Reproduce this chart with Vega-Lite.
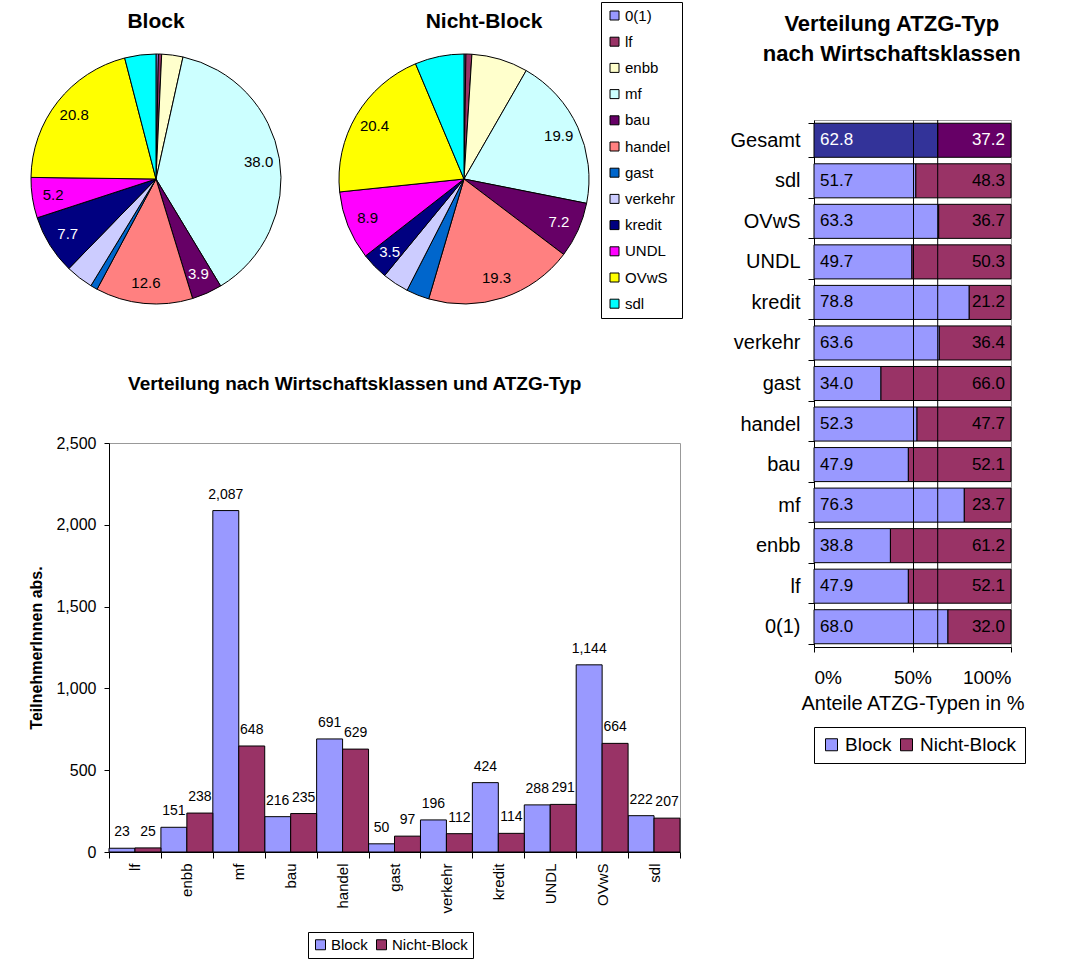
{
  "$schema": "https://vega.github.io/schema/vega-lite/v6.json",
  "background": "white",
  "padding": {"left": 28, "top": 1, "right": 0, "bottom": 0},
  "config": {
    "font": "Liberation Sans",
    "view": {"stroke": null},
    "axis": {"labelColor": "black", "titleColor": "black", "domainColor": "black", "tickColor": "black"},
    "legend": {"labelColor": "black"},
    "title": {"color": "black"}
  },
  "datasets": {
    "counts": [
      {"cls": "0(1)", "type": "Block", "n": 17, "pct": 0.3, "ord": 1},
      {"cls": "lf", "type": "Block", "n": 23, "pct": 0.4, "ord": 2},
      {"cls": "enbb", "type": "Block", "n": 151, "pct": 2.7, "ord": 3},
      {"cls": "mf", "type": "Block", "n": 2087, "pct": 38.0, "ord": 4},
      {"cls": "bau", "type": "Block", "n": 216, "pct": 3.9, "ord": 5},
      {"cls": "handel", "type": "Block", "n": 691, "pct": 12.6, "ord": 6},
      {"cls": "gast", "type": "Block", "n": 50, "pct": 0.9, "ord": 7},
      {"cls": "verkehr", "type": "Block", "n": 196, "pct": 3.6, "ord": 8},
      {"cls": "kredit", "type": "Block", "n": 424, "pct": 7.7, "ord": 9},
      {"cls": "UNDL", "type": "Block", "n": 288, "pct": 5.2, "ord": 10},
      {"cls": "OVwS", "type": "Block", "n": 1144, "pct": 20.8, "ord": 11},
      {"cls": "sdl", "type": "Block", "n": 222, "pct": 4.0, "ord": 12},
      {"cls": "0(1)", "type": "Nicht-Block", "n": 8, "pct": 0.2, "ord": 1},
      {"cls": "lf", "type": "Nicht-Block", "n": 25, "pct": 0.8, "ord": 2},
      {"cls": "enbb", "type": "Nicht-Block", "n": 238, "pct": 7.3, "ord": 3},
      {"cls": "mf", "type": "Nicht-Block", "n": 648, "pct": 19.9, "ord": 4},
      {"cls": "bau", "type": "Nicht-Block", "n": 235, "pct": 7.2, "ord": 5},
      {"cls": "handel", "type": "Nicht-Block", "n": 629, "pct": 19.3, "ord": 6},
      {"cls": "gast", "type": "Nicht-Block", "n": 97, "pct": 3.0, "ord": 7},
      {"cls": "verkehr", "type": "Nicht-Block", "n": 112, "pct": 3.4, "ord": 8},
      {"cls": "kredit", "type": "Nicht-Block", "n": 114, "pct": 3.5, "ord": 9},
      {"cls": "UNDL", "type": "Nicht-Block", "n": 291, "pct": 8.9, "ord": 10},
      {"cls": "OVwS", "type": "Nicht-Block", "n": 664, "pct": 20.4, "ord": 11},
      {"cls": "sdl", "type": "Nicht-Block", "n": 207, "pct": 6.3, "ord": 12}
    ],
    "shares": [
      {"cls": "Gesamt", "type": "Block", "pct": 62.8},
      {"cls": "Gesamt", "type": "Nicht-Block", "pct": 37.2},
      {"cls": "sdl", "type": "Block", "pct": 51.7},
      {"cls": "sdl", "type": "Nicht-Block", "pct": 48.3},
      {"cls": "OVwS", "type": "Block", "pct": 63.3},
      {"cls": "OVwS", "type": "Nicht-Block", "pct": 36.7},
      {"cls": "UNDL", "type": "Block", "pct": 49.7},
      {"cls": "UNDL", "type": "Nicht-Block", "pct": 50.3},
      {"cls": "kredit", "type": "Block", "pct": 78.8},
      {"cls": "kredit", "type": "Nicht-Block", "pct": 21.2},
      {"cls": "verkehr", "type": "Block", "pct": 63.6},
      {"cls": "verkehr", "type": "Nicht-Block", "pct": 36.4},
      {"cls": "gast", "type": "Block", "pct": 34.0},
      {"cls": "gast", "type": "Nicht-Block", "pct": 66.0},
      {"cls": "handel", "type": "Block", "pct": 52.3},
      {"cls": "handel", "type": "Nicht-Block", "pct": 47.7},
      {"cls": "bau", "type": "Block", "pct": 47.9},
      {"cls": "bau", "type": "Nicht-Block", "pct": 52.1},
      {"cls": "mf", "type": "Block", "pct": 76.3},
      {"cls": "mf", "type": "Nicht-Block", "pct": 23.7},
      {"cls": "enbb", "type": "Block", "pct": 38.8},
      {"cls": "enbb", "type": "Nicht-Block", "pct": 61.2},
      {"cls": "lf", "type": "Block", "pct": 47.9},
      {"cls": "lf", "type": "Nicht-Block", "pct": 52.1},
      {"cls": "0(1)", "type": "Block", "pct": 68.0},
      {"cls": "0(1)", "type": "Nicht-Block", "pct": 32.0}
    ]
  },
  "hconcat": [
    {
      "vconcat": [
        {
          "hconcat": [
            {
              "width": 94, "height": 118,
              "title": {"text": "Block", "fontSize": 21, "fontWeight": "bold", "anchor": "middle", "offset": 20},
              "data": {"name": "counts"},
              "transform": [{"filter": "datum.type === 'Block'"}],
              "encoding": {
                "theta": {"field": "n", "type": "quantitative", "stack": true},
                "order": {"field": "ord", "type": "quantitative"}
              },
              "layer": [
                {
                  "mark": {"type": "arc", "outerRadius": 125, "stroke": "black", "strokeWidth": 1},
                  "encoding": {
                    "color": {"field": "cls", "type": "nominal",
                      "scale": {"domain": ["0(1)","lf","enbb","mf","bau","handel","gast","verkehr","kredit","UNDL","OVwS","sdl"],
                                "range": ["#9999FF","#993366","#FFFFCC","#CCFFFF","#660066","#FF8080","#0066CC","#CCCCFF","#000080","#FF00FF","#FFFF00","#00FFFF"]},
                      "legend": {"orient": "none", "legendX": 492, "legendY": -118, "title": null,
                        "strokeColor": "black", "fillColor": "white", "padding": 6,
                        "symbolType": "square", "symbolSize": 81, "symbolStrokeColor": "black", "symbolStrokeWidth": 1,
                        "labelFontSize": 15, "labelOffset": 3, "rowPadding": 10.2}}
                  }
                },
                {
                  "mark": {"type": "text", "radius": 104, "fontSize": 15},
                  "encoding": {
                    "text": {"condition": {"test": "indexof(['mf','bau','handel','kredit','UNDL','OVwS'], datum.cls) >= 0", "field": "pct", "type": "quantitative", "format": ".1f"}, "value": ""},
                    "color": {"condition": {"test": "datum.cls === 'bau' || datum.cls === 'kredit'", "value": "white"}, "value": "black"}
                  }
                }
              ]
            },
            {
              "width": 94, "height": 118,
              "title": {"text": "Nicht-Block", "fontSize": 21, "fontWeight": "bold", "anchor": "middle", "offset": 20, "dx": 20},
              "data": {"name": "counts"},
              "transform": [{"filter": "datum.type === 'Nicht-Block'"}],
              "encoding": {
                "theta": {"field": "n", "type": "quantitative", "stack": true},
                "order": {"field": "ord", "type": "quantitative"}
              },
              "layer": [
                {
                  "mark": {"type": "arc", "outerRadius": 125, "stroke": "black", "strokeWidth": 1},
                  "encoding": {
                    "color": {"field": "cls", "type": "nominal",
                      "scale": {"domain": ["0(1)","lf","enbb","mf","bau","handel","gast","verkehr","kredit","UNDL","OVwS","sdl"],
                                "range": ["#9999FF","#993366","#FFFFCC","#CCFFFF","#660066","#FF8080","#0066CC","#CCCCFF","#000080","#FF00FF","#FFFF00","#00FFFF"]},
                      "legend": {"orient": "none", "legendX": 492, "legendY": -118, "title": null,
                        "strokeColor": "black", "fillColor": "white", "padding": 6,
                        "symbolType": "square", "symbolSize": 81, "symbolStrokeColor": "black", "symbolStrokeWidth": 1,
                        "labelFontSize": 15, "labelOffset": 3, "rowPadding": 10.2}}
                  }
                },
                {
                  "mark": {"type": "text", "radius": 104, "fontSize": 15},
                  "encoding": {
                    "text": {"condition": {"test": "indexof(['mf','bau','handel','kredit','UNDL','OVwS'], datum.cls) >= 0", "field": "pct", "type": "quantitative", "format": ".1f"}, "value": ""},
                    "color": {"condition": {"test": "datum.cls === 'bau' || datum.cls === 'kredit'", "value": "white"}, "value": "black"}
                  }
                }
              ]
            }
          ],
          "spacing": 214,
          "bounds": "flush"
        },
        {
          "width": 571, "height": 409,
          "title": {"text": "Verteilung nach Wirtschaftsklassen und ATZG-Typ", "fontSize": 19, "fontWeight": "bold", "anchor": "middle", "frame": "bounds", "offset": 41},
          "view": {"stroke": "#999999"},
          "data": {"name": "counts"},
          "transform": [{"filter": "datum.cls !== '0(1)'"}],
          "encoding": {
            "x": {"field": "cls", "type": "nominal",
              "sort": ["lf","enbb","mf","bau","handel","gast","verkehr","kredit","UNDL","OVwS","sdl"],
              "scale": {"paddingInner": 0, "paddingOuter": 0},
              "axis": {"title": null, "labelAngle": -90, "labelFontSize": 15, "tickBand": "extent", "tickSize": 6, "labelPadding": 5}},
            "xOffset": {"field": "type", "type": "nominal", "sort": ["Block","Nicht-Block"]},
            "y": {"field": "n", "type": "quantitative", "scale": {"domain": [0, 2500]},
              "axis": {"values": [0,500,1000,1500,2000,2500], "format": ",d", "title": "TeilnehmerInnen abs.",
                "titleFontSize": 16, "titleFontWeight": "bold", "titlePadding": 11,
                "labelFontSize": 16, "labelPadding": 8, "tickSize": 5, "grid": false}}
          },
          "layer": [
            {
              "mark": {"type": "bar", "stroke": "black", "strokeWidth": 1},
              "encoding": {
                "color": {"field": "type", "type": "nominal",
                  "scale": {"domain": ["Block","Nicht-Block"], "range": ["#9999FF","#993366"]},
                  "legend": {"orient": "none", "legendX": 199, "legendY": 489, "direction": "horizontal", "title": null,
                    "strokeColor": "black", "fillColor": "white", "padding": 5,
                    "symbolType": "square", "symbolSize": 100, "symbolStrokeColor": "black", "symbolStrokeWidth": 1,
                    "labelFontSize": 15, "labelOffset": 3, "columnPadding": 6}}
              }
            },
            {
              "mark": {"type": "text", "baseline": "bottom", "dy": -9, "fontSize": 14},
              "encoding": {"text": {"field": "n", "type": "quantitative", "format": ",d"}}
            }
          ]
        }
      ],
      "spacing": 55,
      "resolve": {"scale": {"color": "independent"}, "legend": {"color": "independent"}}
    },
    {
      "width": 197, "height": 527,
      "title": {"text": ["Verteilung ATZG-Typ", "nach Wirtschaftsklassen"], "fontSize": 22, "fontWeight": "bold", "lineHeight": 30,
        "anchor": "middle", "frame": "bounds", "offset": 44, "dx": 14},
      "view": {"stroke": "#999999"},
      "data": {"name": "shares"},
      "layer": [
        {
          "mark": {"type": "bar", "stroke": "black", "strokeWidth": 1},
          "encoding": {
            "y": {"field": "cls", "type": "nominal",
              "sort": ["Gesamt","sdl","OVwS","UNDL","kredit","verkehr","gast","handel","bau","mf","enbb","lf","0(1)"],
              "scale": {"paddingInner": 0.16, "paddingOuter": 0.08},
              "axis": {"title": null, "labelFontSize": 20, "tickBand": "extent", "tickSize": 6, "labelPadding": 8}},
            "x": {"field": "pct", "type": "quantitative", "stack": true, "scale": {"domain": [0, 100]},
              "axis": {"values": [0, 50, 100], "labelExpr": "datum.value + '%'", "title": "Anteile ATZG-Typen in %",
                "titleFontSize": 20, "titleFontWeight": "normal", "titlePadding": 6,
                "labelFontSize": 19, "labelPadding": 16, "tickSize": 5,
                "grid": true, "gridColor": "black", "gridOpacity": {"condition": {"test": "datum.value === 50", "value": 1}, "value": 0},
                "zindex": 1}},
            "color": {
              "condition": [
                {"test": "datum.cls === 'Gesamt' && datum.type === 'Block'", "value": "#333399"},
                {"test": "datum.cls === 'Gesamt' && datum.type === 'Nicht-Block'", "value": "#660066"}
              ],
              "field": "type", "type": "nominal",
              "scale": {"domain": ["Block","Nicht-Block"], "range": ["#9999FF","#993366"]},
              "legend": {"orient": "bottom", "direction": "horizontal", "title": null,
                "strokeColor": "black", "fillColor": "white", "padding": 8,
                "symbolType": "square", "symbolSize": 144, "symbolStrokeColor": "black", "symbolStrokeWidth": 1,
                "labelFontSize": 19, "labelOffset": 4, "columnPadding": 5, "offset": 14}
            }
          }
        },
        {
          "transform": [{"filter": "datum.type === 'Block'"}],
          "mark": {"type": "text", "align": "left", "dx": 6, "fontSize": 17},
          "encoding": {
            "y": {"field": "cls", "type": "nominal", "sort": ["Gesamt","sdl","OVwS","UNDL","kredit","verkehr","gast","handel","bau","mf","enbb","lf","0(1)"]},
            "x": {"datum": 0, "type": "quantitative"},
            "text": {"field": "pct", "type": "quantitative", "format": ".1f"},
            "color": {"condition": {"test": "datum.cls === 'Gesamt'", "value": "white"}, "value": "black"}
          }
        },
        {
          "transform": [{"filter": "datum.type === 'Nicht-Block'"}],
          "mark": {"type": "text", "align": "right", "dx": -6, "fontSize": 17},
          "encoding": {
            "y": {"field": "cls", "type": "nominal", "sort": ["Gesamt","sdl","OVwS","UNDL","kredit","verkehr","gast","handel","bau","mf","enbb","lf","0(1)"]},
            "x": {"datum": 100, "type": "quantitative"},
            "text": {"field": "pct", "type": "quantitative", "format": ".1f"},
            "color": {"condition": {"test": "datum.cls === 'Gesamt'", "value": "white"}, "value": "black"}
          }
        },
        {
          "transform": [{"filter": "datum.cls === 'Gesamt' && datum.type === 'Block'"}],
          "mark": {"type": "rule", "color": "black", "strokeWidth": 1},
          "encoding": {"x": {"field": "pct", "type": "quantitative"}}
        }
      ]
    }
  ],
  "spacing": 46,
  "resolve": {"scale": {"color": "independent"}, "legend": {"color": "independent"}}
}
